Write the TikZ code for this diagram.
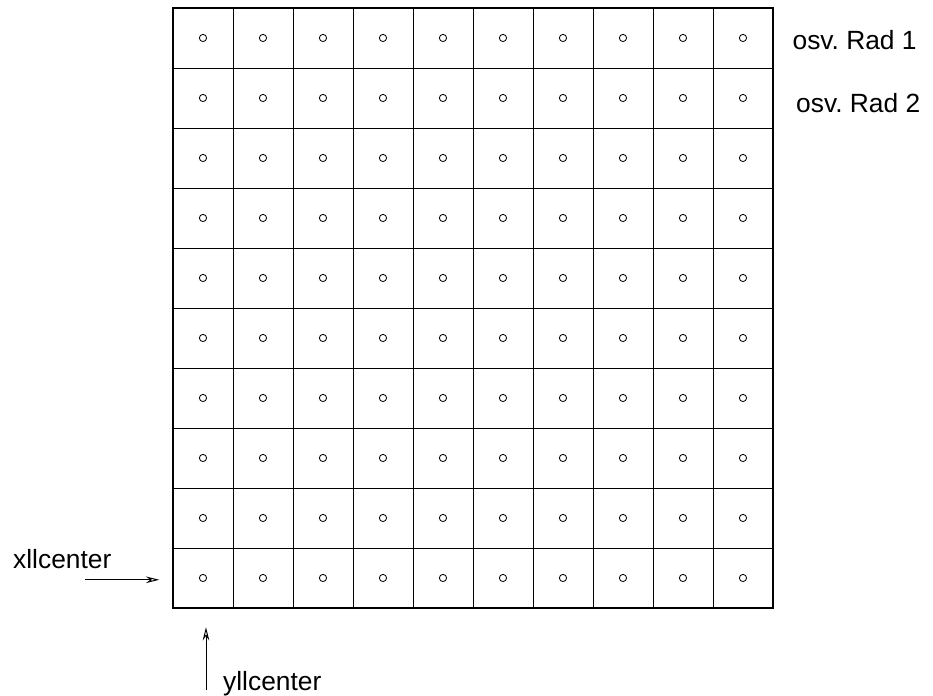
\documentclass[tikz,border=0pt]{standalone}
\usepackage{fontspec}
\setmainfont{Liberation Sans}
\usetikzlibrary{arrows.meta}
\tikzset{
  lbl/.style={inner sep=0pt, font=\fontsize{12.5}{15}\selectfont},
  ptr/.style={line width=0.45pt, -{Stealth[open, length=2.2mm, width=1.1mm]}}
}
\frenchspacing
\begin{document}
\begin{tikzpicture}[x=1cm,y=1cm]
                \useasboundingbox (-2.883,-1.467) rectangle (12.667,10.133);
                \foreach \i in {0,...,10} {
                    \draw[line width=0.45pt] (\i,0) -- (\i,10);
                    \draw[line width=0.45pt] (0,\i) -- (10,\i);
                }
                \draw[line width=0.6pt] (0,0) rectangle (10,10);
                \foreach \x in {0,...,9} {
                    \foreach \y in {0,...,9} {
                        \draw[line width=0.4pt] (\x+0.5,\y+0.5) circle (0.06);
                    }
                }
                \node[lbl, anchor=base west] (rad1) at (10.32,9.3) {osv. Rad 1};
                \node[lbl, anchor=base west] (rad2) at (10.38,8.25) {osv. Rad 2};
                \node[lbl, anchor=base west] (xll) at (-2.67,0.65) {xllcenter};
                \node[lbl, anchor=base west] (yll) at (0.83,-1.38) {yllcenter};
                \coordinate (xfrom) at (-1.47,0.47);
                \coordinate (xto) at (-0.23,0.47);
                \coordinate (yfrom) at (0.55,-1.37);
                \coordinate (yto) at (0.55,-0.32);
                \draw[ptr] (xfrom) -- (xto);
                \draw[ptr] (yfrom) -- (yto);
            \end{tikzpicture}
\end{document}
